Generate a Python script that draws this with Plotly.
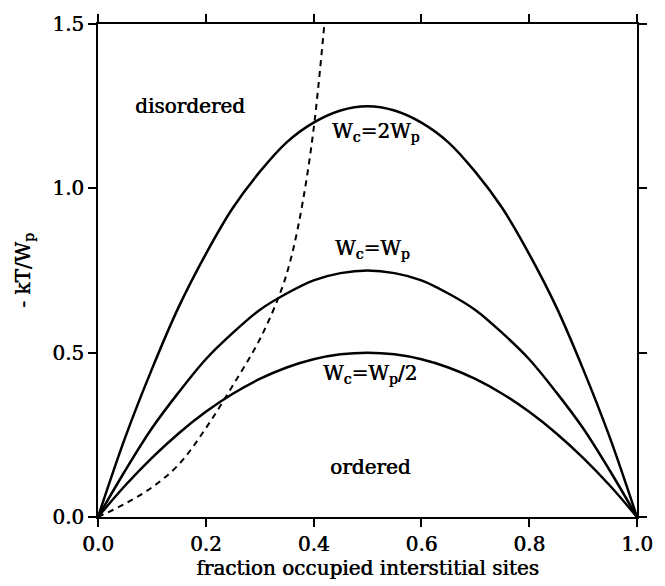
import plotly.graph_objects as go

# fraction of occupied interstitial sites
x_frac = [0.0, 0.05, 0.10, 0.15, 0.20, 0.25, 0.30, 0.35, 0.40, 0.45, 0.50,
          0.55, 0.60, 0.65, 0.70, 0.75, 0.80, 0.85, 0.90, 0.95, 1.0]

# critical temperature -kT/Wp for the three interaction ratios
t_wc_2wp = [0.0, 0.24, 0.45, 0.64, 0.80, 0.94, 1.05, 1.14, 1.20, 1.237, 1.25,
            1.237, 1.20, 1.14, 1.05, 0.94, 0.80, 0.64, 0.45, 0.24, 0.0]
t_wc_wp = [0.0, 0.14, 0.27, 0.38, 0.48, 0.56, 0.63, 0.68, 0.72, 0.742, 0.75,
           0.742, 0.72, 0.68, 0.63, 0.56, 0.48, 0.38, 0.27, 0.14, 0.0]
t_wc_half = [0.0, 0.095, 0.18, 0.255, 0.32, 0.375, 0.42, 0.455, 0.48, 0.495, 0.50,
             0.495, 0.48, 0.455, 0.42, 0.375, 0.32, 0.255, 0.18, 0.095, 0.0]

# dashed boundary
x_dash = [0.0, 0.05, 0.10, 0.15, 0.20, 0.25, 0.30, 0.34, 0.36, 0.38, 0.40, 0.42]
t_dash = [0.0, 0.04, 0.09, 0.16, 0.27, 0.40, 0.54, 0.69, 0.80, 0.96, 1.18, 1.50]

x_ticks = [0.0, 0.2, 0.4, 0.6, 0.8, 1.0]
y_ticks = [0.0, 0.5, 1.0, 1.5]

FONT = "DejaVu Serif"
INK = "#000000"
# a slight horizontal shadow gives the text a heavier, print-like stroke
HEAVY = "0.6px 0px 0px #000000"


def txt_font(size=20):
    return dict(family=FONT, size=size, color=INK, shadow=HEAVY)


fig = go.Figure()
for ys in (t_wc_2wp, t_wc_wp, t_wc_half):
    fig.add_trace(go.Scatter(x=x_frac, y=ys, mode="lines",
                             line=dict(color="black", width=2.5, shape="spline"),
                             showlegend=False, hoverinfo="skip"))
fig.add_trace(go.Scatter(x=x_dash, y=t_dash, mode="lines",
                         line=dict(color="black", width=2, dash="6px,5px", shape="spline"),
                         showlegend=False, hoverinfo="skip"))

labels = [
    (0.171, 1.25, "disordered"),
    (0.515, 1.17, "W<sub>c</sub>=2W<sub>p</sub>"),
    (0.51, 0.815, "W<sub>c</sub>=W<sub>p</sub>"),
    (0.505, 0.435, "W<sub>c</sub>=W<sub>p</sub>/2"),
    (0.505, 0.153, "ordered"),
]
for lx, ly, txt in labels:
    fig.add_annotation(x=lx, y=ly, text=txt, showarrow=False, font=txt_font())

axis_common = dict(showline=True, linecolor="black", linewidth=2, mirror="allticks",
                   ticks="outside", ticklen=8, tickwidth=2, tickcolor="black",
                   showgrid=False, zeroline=False, tickfont=txt_font())

fig.update_xaxes(range=[0, 1], tickvals=x_ticks, tickformat=".1f",
                 title=dict(text="fraction occupied interstitial sites", standoff=4,
                            font=txt_font()),
                 **axis_common)
fig.update_yaxes(range=[0, 1.5], tickvals=y_ticks, tickformat=".1f",
                 title=dict(text="- kT/W<sub>p</sub>", standoff=16, font=txt_font()),
                 **axis_common)

fig.update_layout(width=665, height=586, margin=dict(l=98, r=28, t=20, b=67),
                  plot_bgcolor="white", paper_bgcolor="white")

fig.write_html("out.html")
